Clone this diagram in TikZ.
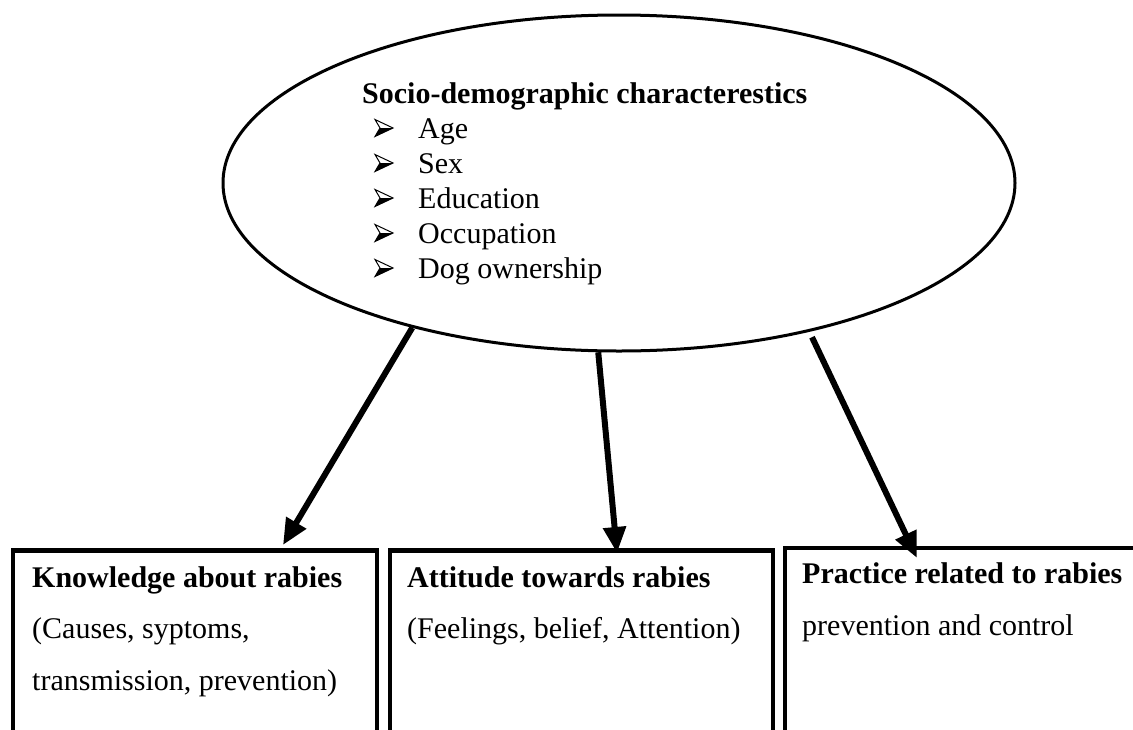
\documentclass[tikz,border=0pt]{standalone}
\usepackage{fontspec}
\setmainfont{Liberation Serif}
\usetikzlibrary{shapes.geometric,arrows.meta}

\tikzset{
  bullet/.pic={
    \fill (5,0) -- (18,0) -- (0,8.5) -- cycle;
    \draw[line width=1pt,line join=miter] (0,-8.5) -- (18,0) -- (0,8.5) -- (5,0) -- cycle;
  }
}

\begin{document}
\begin{tikzpicture}[x=1pt,y=-1pt,
  every node/.style={font=\fontsize{30}{34.5}\selectfont,inner sep=0pt},
  head/.style={font=\bfseries\fontsize{30}{34.5}\selectfont},
  factor/.style={draw,line width=4.5pt,anchor=north west,minimum height=320pt},
  arrow/.style={line width=6pt,-{Triangle[length=26pt,width=22pt]}}]

\useasboundingbox (0,0) rectangle (1133,729);
\clip (0,0) rectangle (1133,729);

% Socio-demographic ellipse
\node[ellipse,draw,line width=3pt,minimum width=792pt,minimum height=336pt] (socio) at (619,183) {};
\node[head,anchor=base west] (title) at (362,103) {Socio-demographic characterestics};
\foreach \lbl [count=\i] in {Age,Sex,Education,Occupation,Dog ownership}{
  \pic at (375,93+35*\i) {bullet};
  \node[anchor=base west] (item\i) at (418,103+35*\i) {\lbl};
}

% Outcome boxes
\node[factor,minimum width=364pt] (know) at (10.5,548) {};
\node[factor,minimum width=383pt] (att) at (387.5,548) {};
\node[factor,minimum width=400pt] (prac) at (782.5,545.5) {};

\node[head,anchor=base west] (knowT) at (32,587) {Knowledge about rabies};
\node[anchor=base west] (knowA) at (32,638) {(Causes, syptoms,};
\node[anchor=base west] (knowB) at (32,690) {transmission, prevention)};

\node[head,anchor=base west] (attT) at (407,587) {Attitude towards rabies};
\node[anchor=base west] (attA) at (407,638) {(Feelings, belief, Attention)};

\node[head,anchor=base west] (pracT) at (802,583) {Practice related to rabies};
\node[anchor=base west] (pracA) at (802,635) {prevention and control};

% Arrows
\coordinate (tipK) at (283,545);
\coordinate (tipA) at (617,553);
\coordinate (tipP) at (917,558);
\draw[arrow] (socio.215) -- (tipK);
\draw[arrow] (socio.263) -- (tipA);
\draw[arrow,shorten <=6pt] (socio.322) -- (tipP);
\end{tikzpicture}
\end{document}
